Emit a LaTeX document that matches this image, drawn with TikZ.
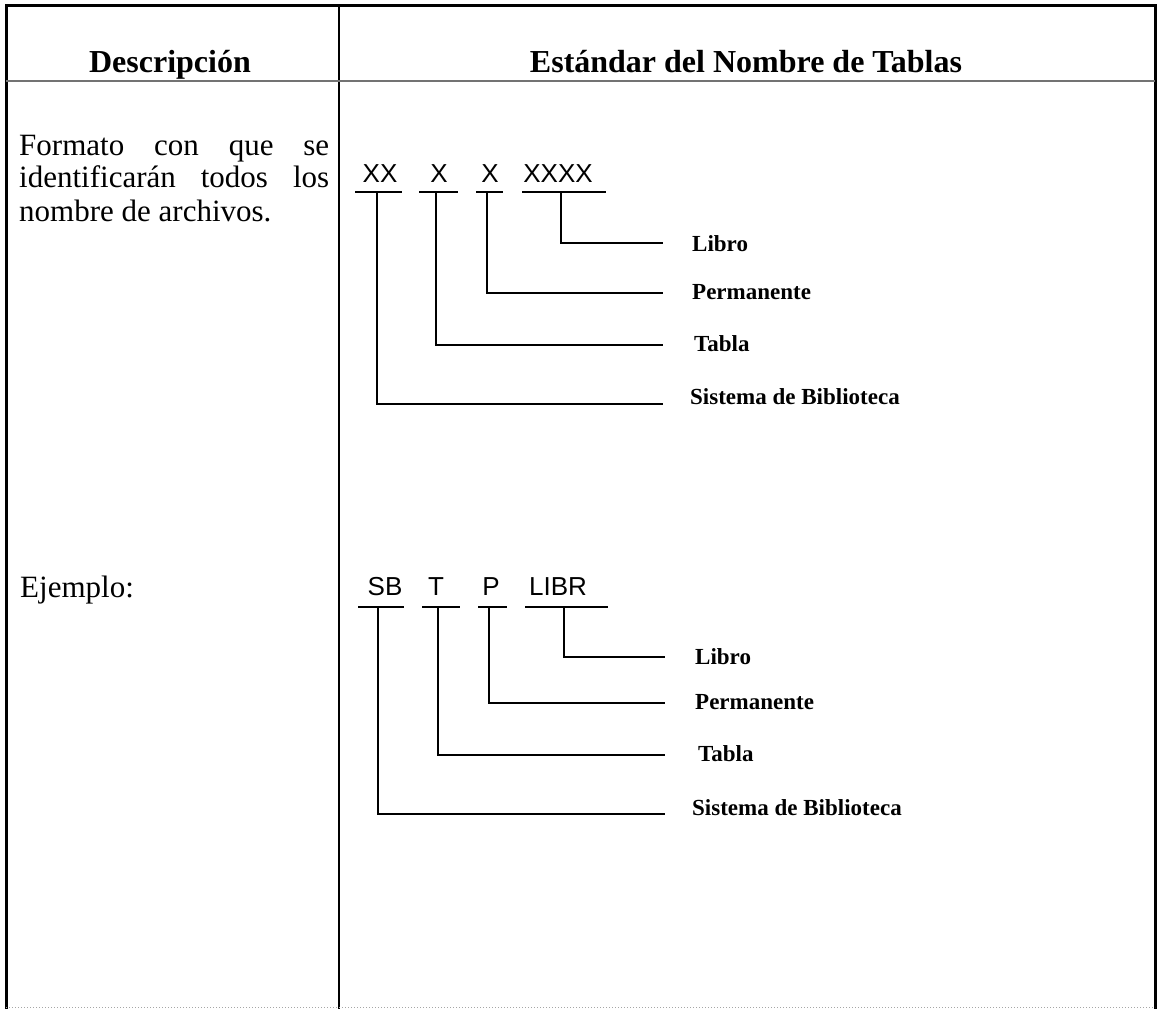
\documentclass[tikz,border=0pt]{standalone}
\usepackage{fontspec}
\setmainfont{Liberation Serif}
\newfontfamily\codefont{Liberation Sans}
\usetikzlibrary{calc}
\tikzset{
  frameline/.style={line width=3pt, black},
  divider/.style={line width=2pt, black},
  sepline/.style={line width=1.2pt, black!55},
  bottomline/.style={line width=1pt, black!35, dotted},
  conn/.style={line width=2.3pt, black},
  uline/.style={line width=2.3pt, black},
  head/.style={font=\fontsize{32}{36}\selectfont\bfseries, inner sep=0pt, anchor=base},
  codetext/.style={font=\codefont\fontsize{26}{30}\selectfont, inner sep=0pt, anchor=base},
  lab/.style={font=\fontsize{23}{26}\selectfont\bfseries, inner sep=0pt, anchor=base west},
  body/.style={font=\fontsize{31}{34}\selectfont, inner sep=0pt, anchor=base west}
}
\begin{document}
\begin{tikzpicture}[x=1pt,y=-1pt]
\useasboundingbox (0,0) rectangle (1159,1009);
\fill[white] (0,0) rectangle (1159,1009);

% table frame
\draw[frameline] (6,1009) -- (6,5) -- (1155,5) -- (1155,1009);
\draw[divider] (339,5) -- (339,1009);
\draw[sepline] (6,81) -- (1155,81);
\draw[bottomline] (6,1007) -- (1155,1007);

% headers
\node[head] (h1) at (170,72) {Descripción};
\node[head] (h2) at (746,72) {Estándar del Nombre de Tablas};

% left column
\node[body] (t1) at (19,155) {\hbox to 310pt{Formato\hfill con\hfill que\hfill se}};
\node[body] (t2) at (19,187) {\hbox to 310pt{identificarán\hfill todos\hfill los}};
\node[body] (t3) at (19,221) {nombre de archivos.};
\node[body] (t4) at (20,597) {Ejemplo:};

% ---------- diagram 1 ----------
\node[codetext] (a1) at (380,182) {XX};
\node[codetext] (a2) at (439,182) {X};
\node[codetext] (a3) at (490,182) {X};
\node[codetext] (a4) at (558,182) {XXXX};

\coordinate (u1a) at (355,192); \coordinate (u1b) at (402,192);
\coordinate (u2a) at (419,192); \coordinate (u2b) at (458,192);
\coordinate (u3a) at (476,192); \coordinate (u3b) at (503,192);
\coordinate (u4a) at (522,192); \coordinate (u4b) at (606,192);
\draw[uline] (u1a) -- (u1b);
\draw[uline] (u2a) -- (u2b);
\draw[uline] (u3a) -- (u3b);
\draw[uline] (u4a) -- (u4b);

\coordinate (s1) at (377,192);
\coordinate (s2) at (436,192);
\coordinate (s3) at (487,192);
\coordinate (s4) at (561,192);
\coordinate (e4) at (663,243);
\coordinate (e3) at (663,293);
\coordinate (e2) at (663,345);
\coordinate (e1) at (663,404);
\draw[conn] (s4) |- (e4);
\draw[conn] (s3) |- (e3);
\draw[conn] (s2) |- (e2);
\draw[conn] (s1) |- (e1);

\node[lab] (l4) at (692,251) {Libro};
\node[lab] (l3) at (692,299) {Permanente};
\node[lab] (l2) at (694,351) {Tabla};
\node[lab] (l1) at (690,404) {Sistema de Biblioteca};

% ---------- diagram 2 ----------
\node[codetext] (b1) at (385,595) {SB};
\node[codetext] (b2) at (436,595) {T};
\node[codetext] (b3) at (491,595) {P};
\node[codetext] (b4) at (558,595) {LIBR};

\coordinate (v1a) at (358,607); \coordinate (v1b) at (404,607);
\coordinate (v2a) at (422,607); \coordinate (v2b) at (460,607);
\coordinate (v3a) at (478,607); \coordinate (v3b) at (507,607);
\coordinate (v4a) at (525,607); \coordinate (v4b) at (608,607);
\draw[uline] (v1a) -- (v1b);
\draw[uline] (v2a) -- (v2b);
\draw[uline] (v3a) -- (v3b);
\draw[uline] (v4a) -- (v4b);

\coordinate (r1) at (378,607);
\coordinate (r2) at (438,607);
\coordinate (r3) at (489,607);
\coordinate (r4) at (564,607);
\coordinate (f4) at (665,657);
\coordinate (f3) at (665,703);
\coordinate (f2) at (665,755);
\coordinate (f1) at (665,814);
\draw[conn] (r4) |- (f4);
\draw[conn] (r3) |- (f3);
\draw[conn] (r2) |- (f2);
\draw[conn] (r1) |- (f1);

\node[lab] (m4) at (695,664) {Libro};
\node[lab] (m3) at (695,709) {Permanente};
\node[lab] (m2) at (698,761) {Tabla};
\node[lab] (m1) at (692,815) {Sistema de Biblioteca};
\end{tikzpicture}
\end{document}
